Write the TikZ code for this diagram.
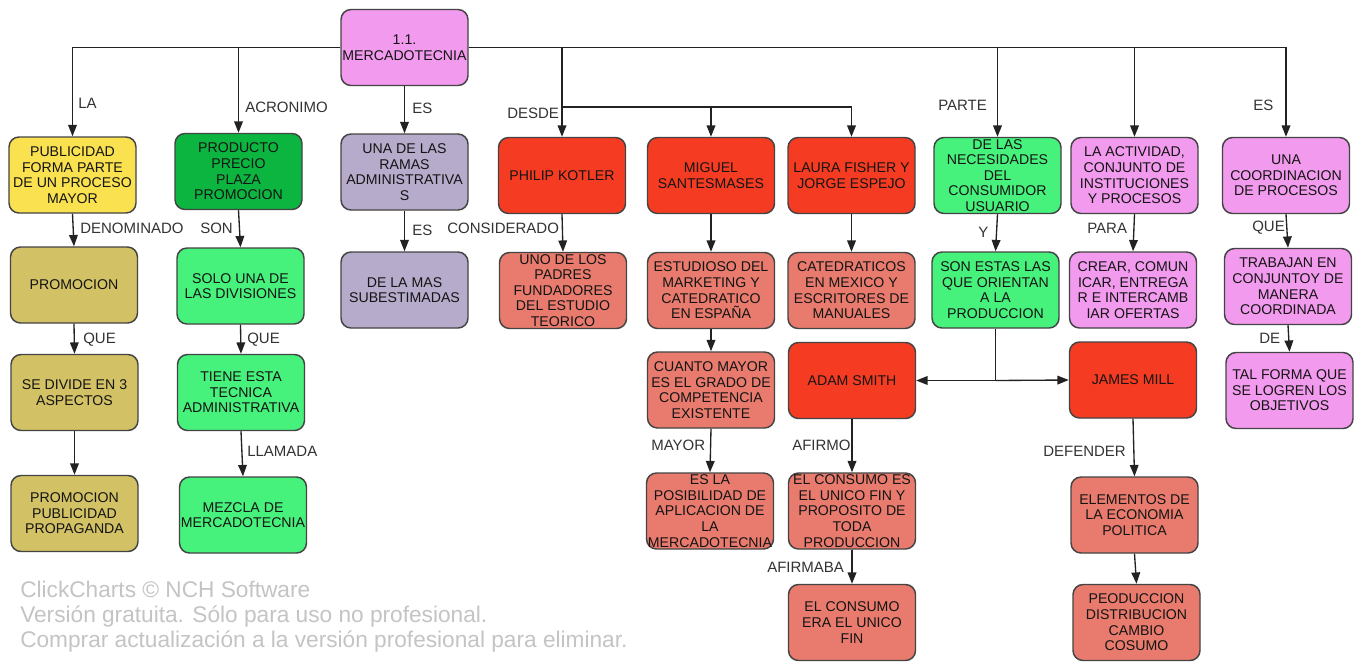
\documentclass[tikz,border=0pt]{standalone}
\usepackage{fontspec}
\setmainfont{Liberation Sans}
\usetikzlibrary{arrows.meta}
\definecolor{pinkc}{HTML}{F29AEE}
\definecolor{yellowc}{HTML}{F9E150}
\definecolor{dgreenc}{HTML}{0CB540}
\definecolor{lavc}{HTML}{B6ABCB}
\definecolor{redc}{HTML}{F53C22}
\definecolor{salmc}{HTML}{E87B6D}
\definecolor{lgreenc}{HTML}{46F17C}
\definecolor{olivec}{HTML}{D3C165}
\definecolor{boxline}{HTML}{444444}
\definecolor{boxtext}{HTML}{141414}
\definecolor{linec}{HTML}{222222}
\definecolor{lblc}{HTML}{333333}
\definecolor{wmc}{HTML}{C4C4C4}
\begin{document}
\begin{tikzpicture}[x=0.75pt,y=-0.75pt,
  box/.style={draw=boxline, line width=1.1pt, rounded corners=7.5pt,
    minimum width=95.25pt, minimum height=57pt, inner sep=0pt, align=center,
    font=\fontsize{10.6}{11.7}\selectfont, text=boxtext},
  boxtxt/.style={inner sep=0pt, align=center, font=\fontsize{10.6}{11.7}\selectfont, text=boxtext},
  conn/.style={draw=linec, line width=1pt},
  arr/.style={conn, -{Triangle[length=8.5pt,width=6.5pt]}},
  lbl/.style={anchor=west, inner sep=0pt, font=\fontsize{11.25}{13}\selectfont, text=lblc},
  wm/.style={anchor=base west, inner sep=0pt, font=\fontsize{17}{19}\selectfont, text=wmc}
]
\useasboundingbox (0,0) rectangle (1360,661);
\fill[white] (0,0) rectangle (1360,661);

% row 0
\node[box, fill=pinkc] (root) at (404.5,47.5) {1.1.\\MERCADOTECNIA};

% row 1
\node[box, fill=yellowc] (pub) at (72.5,175) {PUBLICIDAD\\FORMA PARTE\\DE UN PROCESO\\MAYOR};
\node[box, fill=dgreenc] (prod) at (238.5,171.5) {PRODUCTO\\PRECIO\\PLAZA\\PROMOCION};
\node[box, fill=lavc] (ramas) at (404.5,172) {UNA DE LAS\\RAMAS\\ADMINISTRATIVA\\S};
\node[box, fill=redc] (kotler) at (562,175.5) {PHILIP KOTLER};
\node[box, fill=redc] (miguel) at (711,175.5) {MIGUEL\\SANTESMASES};
\node[box, fill=redc] (laura) at (851.5,175.5) {LAURA FISHER Y\\JORGE ESPEJO};
\node[box, fill=lgreenc] (neces) at (997.5,175.5) {};
\node[boxtxt] (necest) at (neces) {DE LAS\\NECESIDADES\\DEL\\CONSUMIDOR\\USUARIO};
\node[box, fill=pinkc] (activ) at (1134.5,175.5) {LA ACTIVIDAD,\\CONJUNTO DE\\INSTITUCIONES\\Y PROCESOS};
\node[box, fill=pinkc] (coord) at (1286,175.5) {UNA\\COORDINACION\\DE PROCESOS};

% row 2
\node[box, fill=olivec] (promo) at (74,285) {PROMOCION};
\node[box, fill=lgreenc] (solo) at (240.5,286) {SOLO UNA DE\\LAS DIVISIONES};
\node[box, fill=lavc] (mas) at (404.5,290) {DE LA MAS\\SUBESTIMADAS};
\node[box, fill=salmc] (padres) at (563,290.5) {};
\node[boxtxt] (padrest) at (padres) {UNO DE LOS\\PADRES\\FUNDADORES\\DEL ESTUDIO\\TEORICO};
\node[box, fill=salmc] (estud) at (711,290.5) {ESTUDIOSO DEL\\MARKETING Y\\CATEDRATICO\\EN ESPAÑA};
\node[box, fill=salmc] (cated) at (851.5,290.5) {CATEDRATICOS\\EN MEXICO Y\\ESCRITORES DE\\MANUALES};
\node[box, fill=lgreenc] (sonestas) at (995.5,290) {SON ESTAS LAS\\QUE ORIENTAN\\A LA\\PRODUCCION};
\node[box, fill=pinkc] (crear) at (1133,290) {CREAR, COMUN\\ICAR, ENTREGA\\R E INTERCAMB\\IAR OFERTAS};
\node[box, fill=pinkc] (trabajan) at (1288,286.5) {TRABAJAN EN\\CONJUNTOY DE\\MANERA\\COORDINADA};

% row 3
\node[box, fill=olivec] (divide) at (74.5,392.5) {SE DIVIDE EN 3\\ASPECTOS};
\node[box, fill=lgreenc] (tiene) at (241,392.5) {TIENE ESTA\\TECNICA\\ADMINISTRATIVA};
\node[box, fill=salmc] (cuanto) at (711,390) {CUANTO MAYOR\\ES EL GRADO DE\\COMPETENCIA\\EXISTENTE};
\node[box, fill=redc] (adam) at (852,380.5) {ADAM SMITH};
\node[box, fill=redc] (james) at (1133,380) {JAMES MILL};
\node[box, fill=pinkc] (tal) at (1289.5,390.5) {TAL FORMA QUE\\SE LOGREN LOS\\OBJETIVOS};

% row 4
\node[box, fill=olivec] (ppp) at (74.5,513.5) {PROMOCION\\PUBLICIDAD\\PROPAGANDA};
\node[box, fill=lgreenc] (mezcla) at (243,515) {MEZCLA DE\\MERCADOTECNIA};
\node[box, fill=salmc] (posib) at (710,511) {};
\node[boxtxt] (posibt) at (posib) {ES LA\\POSIBILIDAD DE\\APLICACION DE\\LA\\MERCADOTECNIA};
\node[box, fill=salmc] (consumo) at (852,511) {};
\node[boxtxt] (consumot) at (consumo) {EL CONSUMO ES\\EL UNICO FIN Y\\PROPOSITO DE\\TODA\\PRODUCCION};
\node[box, fill=salmc] (elem) at (1134.5,515) {ELEMENTOS DE\\LA ECONOMIA\\POLITICA};

% row 5
\node[box, fill=salmc] (era) at (852,622.5) {EL CONSUMO\\ERA EL UNICO\\FIN};
\node[box, fill=salmc] (peod) at (1136.5,622.5) {PEODUCCION\\DISTRIBUCION\\CAMBIO\\COSUMO};

% connectors from root
\draw[arr] (root.west) -| (pub.north);
\draw[arr] (root.west) -| (prod.north);
\draw[arr] (root.south) -- (ramas.north);
\draw[arr] (root.east) -| (kotler.north);
\coordinate (desde) at (562,107);
\draw[arr] (desde) -| (miguel.north);
\draw[arr] (desde) -| (laura.north);
\draw[arr] (root.east) -| (neces.north);
\draw[arr] (root.east) -| (activ.north);
\draw[arr] (root.east) -| (coord.north);

% vertical connectors
\draw[arr] (pub.south) -- (promo.north);
\draw[arr] (prod.south) -- (solo.north);
\draw[arr] (ramas.south) -- (mas.north);
\draw[arr] (kotler.south) -- (padres.north);
\draw[arr] (miguel.south) -- (estud.north);
\draw[arr] (laura.south) -- (cated.north);
\draw[arr] (neces.south) -- (sonestas.north);
\draw[arr] (activ.south) -- (crear.north);
\draw[arr] (coord.south) -- (trabajan.north);
\draw[arr] (promo.south) -- (divide.north);
\draw[arr] (solo.south) -- (tiene.north);
\draw[arr] (estud.south) -- (cuanto.north);
\draw[arr] (trabajan.south) -- (tal.north);
\draw[arr] (divide.south) -- (ppp.north);
\draw[arr] (tiene.south) -- (mezcla.north);
\draw[arr] (cuanto.south) -- (posib.north);
\draw[arr] (adam.south) -- (consumo.north);
\draw[arr] (consumo.south) -- (era.north);
\draw[arr] (james.south) -- (elem.north);
\draw[arr] (elem.south) -- (peod.north);

% junction below SON ESTAS
\coordinate (jn) at (sonestas.south |- adam.east);
\draw[conn] (sonestas.south) -- (jn);
\draw[arr] (jn) -- (adam.east);
\draw[arr] (jn) -- (james.west);

% labels
\node[lbl] (l1) at (78,103) {LA};
\node[lbl] (l2) at (245,107) {ACRONIMO};
\node[lbl] (l3) at (412,108) {ES};
\node[lbl] (l4) at (507,113) {DESDE};
\node[lbl] (l5) at (938,105) {PARTE};
\node[lbl] (l6) at (1253,105) {ES};
\node[lbl] (l7) at (80,228) {DENOMINADO};
\node[lbl] (l8) at (200,228) {SON};
\node[lbl] (l9) at (412,230) {ES};
\node[lbl] (l10) at (447,228) {CONSIDERADO};
\node[lbl] (l11) at (978,232) {Y};
\node[lbl] (l12) at (1087,228) {PARA};
\node[lbl] (l13) at (1252,228) {QUE};
\node[lbl] (l14) at (83,340) {QUE};
\node[lbl] (l15) at (247,340) {QUE};
\node[lbl] (l16) at (1259,338) {DE};
\node[lbl] (l17) at (247,451) {LLAMADA};
\node[lbl] (l18) at (651,445) {MAYOR};
\node[lbl] (l19) at (792,445) {AFIRMO};
\node[lbl] (l20) at (767,567) {AFIRMABA};
\node[lbl] (l21) at (1043,451) {DEFENDER};

% watermark
\node[wm] (w1) at (20,597) {ClickCharts © NCH Software};
\node[wm] (w2) at (20,622) {Versión gratuita. Sólo para uso no profesional.};
\node[wm] (w3) at (20,647) {Comprar actualización a la versión profesional para eliminar.};
\end{tikzpicture}
\end{document}
